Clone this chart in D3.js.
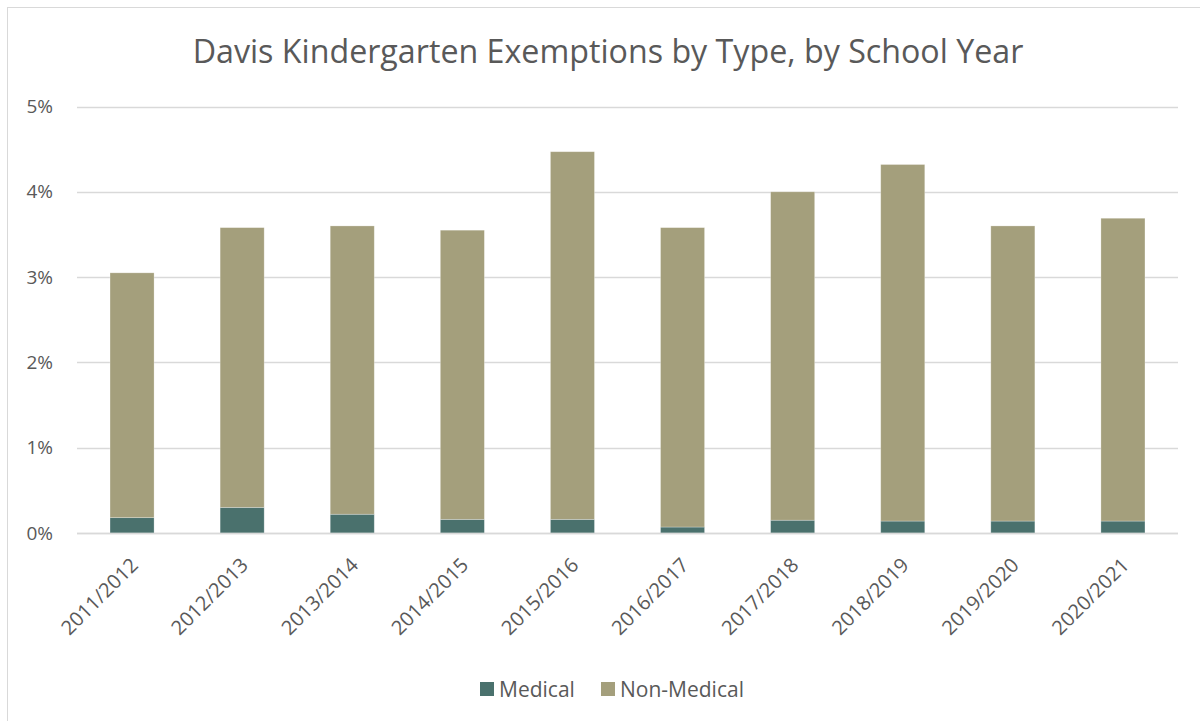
<!DOCTYPE html>
<html>
<head>
<meta charset="utf-8">
<script src="https://cdn.jsdelivr.net/npm/d3@7"></script>
<style>
  html, body { margin: 0; padding: 0; background: #fff; }
  svg { display: block; }
  text { font-family: "Open Sans", "Noto Sans", sans-serif; fill: #595959; }
</style>
</head>
<body>
<svg id="chart" width="1200" height="721"></svg>
<script>
const title = "Davis Kindergarten Exemptions by Type, by School Year";
const categories = ["2011/2012","2012/2013","2013/2014","2014/2015","2015/2016","2016/2017","2017/2018","2018/2019","2019/2020","2020/2021"];
const medical    = [0.18, 0.30, 0.22, 0.16, 0.16, 0.07, 0.15, 0.14, 0.14, 0.14];
const nonMedical = [2.87, 3.28, 3.38, 3.39, 4.31, 3.51, 3.85, 4.18, 3.46, 3.55];
const seriesNames = ["Medical", "Non-Medical"];
const seriesColors = ["#4a716d", "#a49f7c"];
const yTicks = [0, 1, 2, 3, 4, 5];

const svg = d3.select("#chart");

// chart frame
svg.append("rect").attr("x", 7.5).attr("y", 7.5).attr("width", 1220).attr("height", 740)
  .attr("fill", "#fff").attr("stroke", "#d9d9d9").attr("stroke-width", 1);

const x = d3.scaleBand().domain(categories).range([77, 1178]).paddingInner(0.6).paddingOuter(0.3);
const y = d3.scaleLinear().domain([0, 5]).range([533, 106.5]);

// gridlines
svg.append("g").selectAll("line").data(yTicks).join("line")
  .attr("x1", 77).attr("x2", 1178)
  .attr("y1", d => Math.round(y(d)) + 0.5).attr("y2", d => Math.round(y(d)) + 0.5)
  .attr("stroke", "#d9d9d9").attr("stroke-width", 1.5);

// y axis labels
const yAxis = d3.axisLeft(y).tickValues(yTicks).tickFormat(d => d + "%").tickSize(0).tickPadding(0);
const gy = svg.append("g").attr("transform", "translate(53,0)").call(yAxis);
gy.select(".domain").remove();
gy.selectAll("text").attr("font-size", 19).attr("fill", "#595959")
  .style("font-family", '"Open Sans", sans-serif');

// stacked data
const rows = categories.map((c, i) => ({ cat: c, Medical: medical[i], "Non-Medical": nonMedical[i] }));
const stack = d3.stack().keys(seriesNames)(rows);

svg.append("g").selectAll("g").data(stack).join("g")
  .attr("fill", (d, i) => seriesColors[i])
  .selectAll("rect").data(d => d).join("rect")
  .attr("x", d => x(d.data.cat))
  .attr("width", x.bandwidth())
  .attr("y", d => y(d[1]))
  .attr("height", d => y(d[0]) - y(d[1]))
  .attr("stroke", "#ffffff").attr("stroke-opacity", 0.35).attr("stroke-width", 0.75);

// x axis baseline
svg.append("line").attr("x1", 77).attr("x2", 1178).attr("y1", 533.5).attr("y2", 533.5)
  .attr("stroke", "#d9d9d9").attr("stroke-width", 1.5);

// x labels
const xAxis = d3.axisBottom(x).tickSize(0).tickPadding(0);
const gx = svg.append("g").attr("transform", "translate(0,533)").call(xAxis);
gx.select(".domain").remove();
gx.selectAll(".tick text")
  .attr("font-size", 20).attr("fill", "#595959")
  .style("font-family", '"Open Sans", sans-serif')
  .attr("text-anchor", "end")
  .attr("dy", null).attr("y", null)
  .attr("transform", "translate(2,28) rotate(-45)")
  .attr("dominant-baseline", "central");

// title
const t = svg.append("text").attr("x", 608).attr("y", 63).attr("text-anchor", "middle")
  .attr("font-size", 30).attr("fill", "#404040").text(title);
const tw = t.node().getComputedTextLength();
t.attr("font-size", 30 * 831 / tw);

// legend
const legendItems = [
  { name: seriesNames[0], color: seriesColors[0], x: 480 },
  { name: seriesNames[1], color: seriesColors[1], x: 601 }
];
const lg = svg.append("g").selectAll("g").data(legendItems).join("g")
  .attr("transform", d => `translate(${d.x},682)`);
lg.append("rect").attr("width", 14).attr("height", 14).attr("fill", d => d.color);
lg.append("text").attr("x", 19).attr("y", 7).attr("dominant-baseline", "central")
  .attr("font-size", 21).attr("fill", "#595959").text(d => d.name);
</script>
</body>
</html>
